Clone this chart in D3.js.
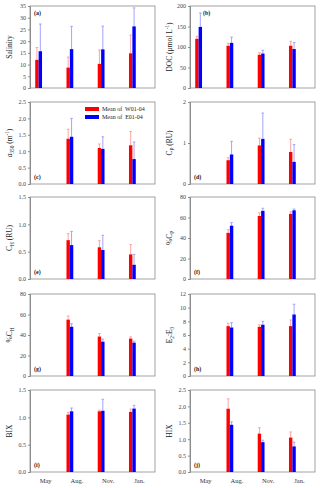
<!DOCTYPE html>
<html lang="en">
<head>
<meta charset="UTF-8" />
<title>seasonal means</title>
<script src="https://cdn.jsdelivr.net/npm/d3@7"></script>
<style>
  body { margin: 0; background: #fff; }
  svg { display: block; font-family: "Liberation Serif", "DejaVu Serif", serif; }
</style>
</head>
<body>
<svg id="svg"></svg>
<script>
const W = 320, H = 488;
const months = ["May", "Aug.", "Nov.", "Jan."];

// mean value and upper error bar end for each month (null = not sampled)
const salinityW = [12.0, 8.7, 10.3, 14.8], salinityWErr = [17.3, 13.2, 16.2, 22.6];
const salinityE = [15.7, 16.6, 16.5, 26.3], salinityEErr = [27.3, 26.3, 26.4, 34.2];
const docW = [120, 103, 81, 103], docWErr = [126, 109, 86, 114];
const docE = [149, 110, 84, 95], docEErr = [183, 124, 92, 111];
const a350W = [null, 1.38, 1.10, 1.18], a350WErr = [null, 1.67, 1.22, 1.60];
const a350E = [null, 1.44, 1.07, 0.76], a350EErr = [null, 2.00, 1.44, 1.28];
const cpW = [null, 0.58, 0.94, 0.78], cpWErr = [null, 0.64, 1.12, 1.09];
const cpE = [null, 0.72, 1.10, 0.54], cpEErr = [null, 1.04, 1.73, 0.96];
const chW = [null, 0.71, 0.58, 0.45], chWErr = [null, 0.83, 0.70, 0.63];
const chE = [null, 0.62, 0.53, 0.26], chEErr = [null, 0.87, 0.80, 0.45];
const pcpW = [null, 45, 61.5, 63.5], pcpWErr = [null, 48, 64.5, 65.5];
const pcpE = [null, 52, 66.5, 67], pcpEErr = [null, 55, 69, 68.2];
const pchW = [null, 55, 38.5, 36.5], pchWErr = [null, 58.5, 41.5, 38.2];
const pchE = [null, 48, 33.5, 32.5], pchEErr = [null, 51, 36, 34];
const e2e3W = [null, 7.3, 7.2, 7.3], e2e3WErr = [null, 7.7, 7.5, 8.2];
const e2e3E = [null, 7.1, 7.5, 9.0], e2e3EErr = [null, 7.8, 8.0, 10.5];
const bixW = [null, 1.05, 1.11, 1.10], bixWErr = [null, 1.09, 1.13, 1.15];
const bixE = [null, 1.11, 1.12, 1.16], bixEErr = [null, 1.17, 1.33, 1.22];
const hixW = [null, 1.93, 1.17, 1.05], hixWErr = [null, 2.23, 1.35, 1.22];
const hixE = [null, 1.44, 0.91, 0.78], hixEErr = [null, 1.53, 0.97, 0.91];

const legendLabels = ["Mean of  W01-04", "Mean of  E01-04"];

const panels = [
  { tag: "(a)", label: "Salinity", max: 35, ticks: d3.range(0, 36, 5), fmt: d3.format("d"),
    w: salinityW, wErr: salinityWErr, e: salinityE, eErr: salinityEErr, tagTop: true },
  { tag: "(b)", label: "DOC (\u03bcmol L<sup>-1</sup>)", max: 200, ticks: d3.range(0, 201, 50), fmt: d3.format("d"),
    w: docW, wErr: docWErr, e: docE, eErr: docEErr, tagTop: true, tagX: 13 },
  { tag: "(c)", label: "<i>a</i><sub>350</sub> (m<sup>-1</sup>)", max: 2.5, ticks: d3.range(0, 2.51, 0.5), fmt: d3.format(".1f"),
    w: a350W, wErr: a350WErr, e: a350E, eErr: a350EErr, legend: true },
  { tag: "(d)", label: "C<sub>P</sub> (RU)", max: 2, ticks: [0, 1, 2], fmt: d3.format("d"),
    w: cpW, wErr: cpWErr, e: cpE, eErr: cpEErr },
  { tag: "(e)", label: "C<sub>H</sub> (RU)", max: 1.5, ticks: [0, 0.5, 1, 1.5], fmt: d3.format(".1f"),
    w: chW, wErr: chWErr, e: chE, eErr: chEErr },
  { tag: "(f)", label: "%C<sub>P</sub>", max: 80, ticks: d3.range(0, 81, 20), fmt: d3.format("d"),
    w: pcpW, wErr: pcpWErr, e: pcpE, eErr: pcpEErr },
  { tag: "(g)", label: "%C<sub>H</sub>", max: 80, ticks: d3.range(0, 81, 20), fmt: d3.format("d"),
    w: pchW, wErr: pchWErr, e: pchE, eErr: pchEErr },
  { tag: "(h)", label: "E<sub>2</sub>:E<sub>3</sub>", max: 12, ticks: d3.range(0, 13, 2), fmt: d3.format("d"),
    w: e2e3W, wErr: e2e3WErr, e: e2e3E, eErr: e2e3EErr },
  { tag: "(i)", label: "BIX", max: 1.5, ticks: [0, 0.5, 1, 1.5], fmt: d3.format(".1f"),
    w: bixW, wErr: bixWErr, e: bixE, eErr: bixEErr, xAxis: true },
  { tag: "(j)", label: "HIX", max: 2.5, ticks: d3.range(0, 2.51, 0.5), fmt: d3.format(".1f"),
    w: hixW, wErr: hixWErr, e: hixE, eErr: hixEErr, xAxis: true }
];

const svg = d3.select("#svg").attr("width", W).attr("height", H);

const colLeft = [30, 190], pw = 125;
const rowTop = [6, 102, 197, 294, 390], ph = 82;
const red = "#ff0000", blue = "#0000ff", redErr = "#ff9a9a", blueErr = "#9a9aff";
const axisCol = "#8c8c8c";
const barW = 3.4;

// turn a tiny markup string into tspans (sub / sup / italic)
function richText(sel, str, size) {
  const re = /<(sub|sup|i)>(.*?)<\/\1>|([^<]+)/g;
  let m, shift = 0;
  while ((m = re.exec(str))) {
    if (m[3]) {
      sel.append("tspan").attr("dy", -shift).text(m[3]);
      shift = 0;
    } else {
      const t = sel.append("tspan").text(m[2]);
      if (m[1] === "i") { t.attr("font-style", "italic").attr("dy", -shift); shift = 0; }
      else {
        const d = m[1] === "sub" ? size * 0.3 : -size * 0.4;
        t.attr("dy", d - shift).attr("font-size", size * 0.7);
        shift = d;
      }
    }
  }
}

panels.forEach((p, i) => {
  const x0 = colLeft[i % 2], y0 = rowTop[Math.floor(i / 2)];
  const g = svg.append("g").attr("transform", `translate(${x0},${y0})`);

  const x = d3.scaleBand().domain(months).range([0, pw]);
  const y = d3.scaleLinear().domain([0, p.max]).range([ph, 0]);
  const off = -7; // bar groups sit left of the band centre

  // frame
  g.append("rect").attr("width", pw).attr("height", ph)
    .attr("fill", "none").attr("stroke", axisCol).attr("stroke-width", 0.8);

  const ya = g.append("g").call(d3.axisLeft(y).tickValues(p.ticks).tickFormat(p.fmt).tickSize(2).tickPadding(2));
  ya.select(".domain").attr("stroke", axisCol);
  ya.selectAll(".tick line").attr("stroke", axisCol);
  ya.selectAll("text").attr("font-size", 6).attr("fill", "#444").attr("font-family", "Liberation Serif");

  if (p.xAxis) {
    const xa = g.append("g").attr("transform", `translate(0,${ph})`)
      .call(d3.axisBottom(x).tickSize(0).tickPadding(6));
    xa.select(".domain").remove();
    xa.selectAll("text").attr("font-size", 6.5).attr("fill", "#333").attr("font-family", "Liberation Serif");
  }

  // y label
  const lab = g.append("text")
    .attr("transform", `translate(-18,${ph / 2}) rotate(-90)`)
    .attr("text-anchor", "middle").attr("font-size", 7.5).attr("fill", "#222");
  richText(lab, p.label, 7.5);

  const series = [
    { v: p.w, err: p.wErr, dx: -barW, col: red, ecol: redErr },
    { v: p.e, err: p.eErr, dx: 0, col: blue, ecol: blueErr }
  ];

  series.forEach(s => {
    const rows = months.map((m, k) => ({ m, v: s.v[k], err: s.err[k] })).filter(d => d.v != null);
    const cx = d => x(d.m) + x.bandwidth() / 2 + off + s.dx;

    g.selectAll(null).data(rows).join("line")
      .attr("x1", d => cx(d) + barW / 2).attr("x2", d => cx(d) + barW / 2)
      .attr("y1", d => y(d.v)).attr("y2", d => y(d.err))
      .attr("stroke", s.ecol).attr("stroke-width", 0.9);
    g.selectAll(null).data(rows).join("line")
      .attr("x1", d => cx(d) + barW / 2 - 1.3).attr("x2", d => cx(d) + barW / 2 + 1.3)
      .attr("y1", d => y(d.err)).attr("y2", d => y(d.err))
      .attr("stroke", s.ecol).attr("stroke-width", 0.9);
    g.selectAll(null).data(rows).join("rect")
      .attr("x", d => cx(d)).attr("width", barW)
      .attr("y", d => y(d.v)).attr("height", d => ph - y(d.v))
      .attr("fill", s.col);
  });

  // panel tag
  g.append("text")
    .attr("x", p.tagX || 4).attr("y", p.tagTop ? 9 : ph - 5)
    .attr("font-size", 6).attr("font-weight", "bold").attr("fill", "#222")
    .text(p.tag);

  if (p.legend) {
    const lg = g.append("g").attr("transform", "translate(55,5)");
    [red, blue].forEach((c, k) => {
      lg.append("rect").attr("x", 0).attr("y", k * 8).attr("width", 14).attr("height", 4).attr("fill", c);
      lg.append("text").attr("x", 17).attr("y", k * 8 + 4)
        .attr("font-size", 6).attr("fill", "#222").attr("xml:space", "preserve")
        .text(legendLabels[k]);
    });
  }
});
</script>
</body>
</html>
